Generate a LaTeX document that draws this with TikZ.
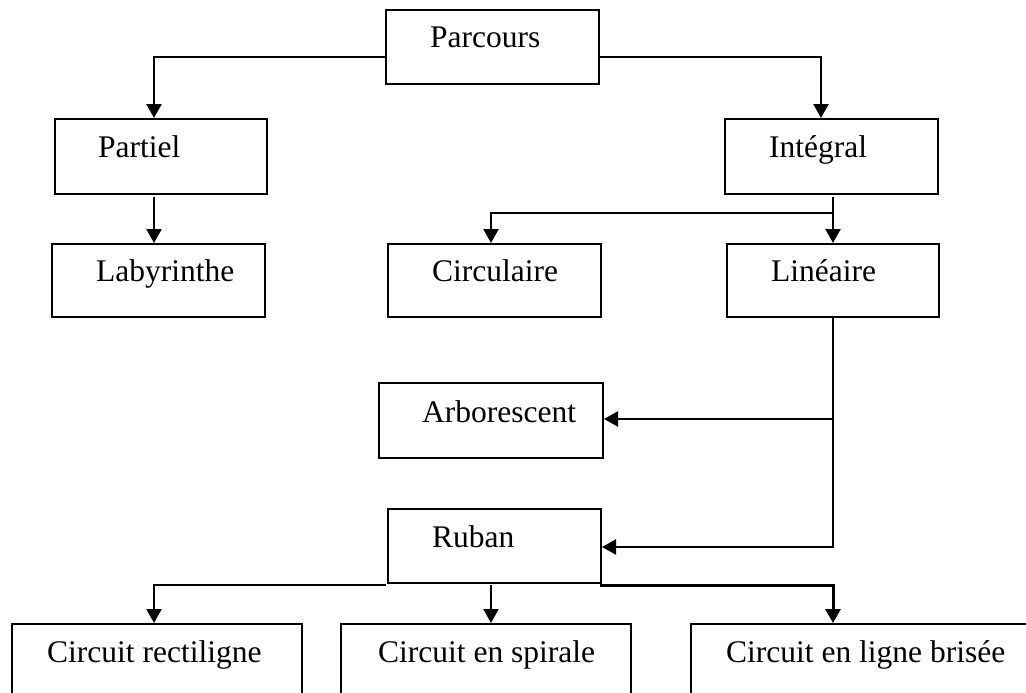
\documentclass[tikz,border=0pt]{standalone}
\usepackage{fontspec}
\setmainfont{Liberation Serif}
\usetikzlibrary{arrows.meta}
\begin{document}
\begin{tikzpicture}[x=1pt,y=-1pt,
  box/.style={draw=black,line width=2pt,rectangle,inner sep=0pt,anchor=north west},
  lbl/.style={anchor=base west,inner sep=0pt,font=\fontsize{31.5}{36}\selectfont},
  conn/.style={line width=2.2pt},
  arr/.style={line width=2.2pt,-{Triangle[length=14pt,width=15pt]}}]
\useasboundingbox (0,0) rectangle (1026,693);
\clip (0,0) rectangle (1026,693);
% boxes
\node[box,minimum width=213pt,minimum height=74pt] (parcours) at (385,9) {};
\node[box,minimum width=212pt,minimum height=75pt] (partiel) at (54,118) {};
\node[box,minimum width=213pt,minimum height=75pt] (integral) at (724,118) {};
\node[box,minimum width=213pt,minimum height=73pt] (labyrinthe) at (51,243) {};
\node[box,minimum width=213pt,minimum height=73pt] (circulaire) at (387,243) {};
\node[box,minimum width=212pt,minimum height=73pt] (lineaire) at (726,243) {};
\node[box,minimum width=224pt,minimum height=75pt] (arborescent) at (378,382) {};
\node[box,minimum width=213pt,minimum height=74pt] (ruban) at (387,508) {};
\node[box,minimum width=290pt,minimum height=100pt] (rect) at (11,623) {};
\node[box,minimum width=290pt,minimum height=100pt] (spirale) at (340,623) {};
\node[box,minimum width=360pt,minimum height=100pt] (brisee) at (690,623) {};
% labels
\node[lbl] (tparcours) at (430,47.5) {Parcours};
\node[lbl] (tpartiel) at (98,157) {Partiel};
\node[lbl] (tintegral) at (769,157) {Intégral};
\node[lbl] (tlabyrinthe) at (96,281) {Labyrinthe};
\node[lbl] (tcirculaire) at (432,281) {Circulaire};
\node[lbl] (tlineaire) at (771,281) {Linéaire};
\node[lbl] (tarborescent) at (422,422) {Arborescent};
\node[lbl] (truban) at (432,547) {Ruban};
\node[lbl] (trect) at (47,662) {Circuit rectiligne};
\node[lbl] (tspirale) at (378,662) {Circuit en spirale};
\node[lbl] (tbrisee) at (726,662) {Circuit en ligne brisée};
% connector helper coordinates
\coordinate (pL) at (385,57);
\coordinate (pR) at (598,57);
\coordinate (paS) at (154,197);
\coordinate (inS) at (833,197);
\coordinate (inJ) at (833,213);
\coordinate (liS) at (833,316);
\coordinate (liE) at (833,548);
\coordinate (arJ) at (833,419);
\coordinate (ruJ) at (833,547);
\coordinate (ruL) at (386,585);
\coordinate (ruM) at (491,585);
\coordinate (ruR) at (600,585);
% connectors
\draw[arr] (pL) -| (partiel.north -| paS);
\draw[arr] (pR) -| (integral.north -| 821,0);
\draw[arr] (paS) -- (labyrinthe.north -| paS);
\draw[arr] (inS) -- (lineaire.north -| inS);
\draw[arr] (inJ) -| (circulaire.north -| 491,0);
\draw[conn] (liS) -- (liE);
\draw[arr] (arJ) -- (arborescent.east |- arJ);
\draw[arr] (ruJ) -- (ruban.east |- ruJ);
\draw[arr] (ruL) -| (rect.north -| 154,0);
\draw[arr] (ruM) -- (spirale.north -| ruM);
\draw[arr,line width=3pt] (ruR) -| (brisee.north -| 833,0);
\end{tikzpicture}
\end{document}
